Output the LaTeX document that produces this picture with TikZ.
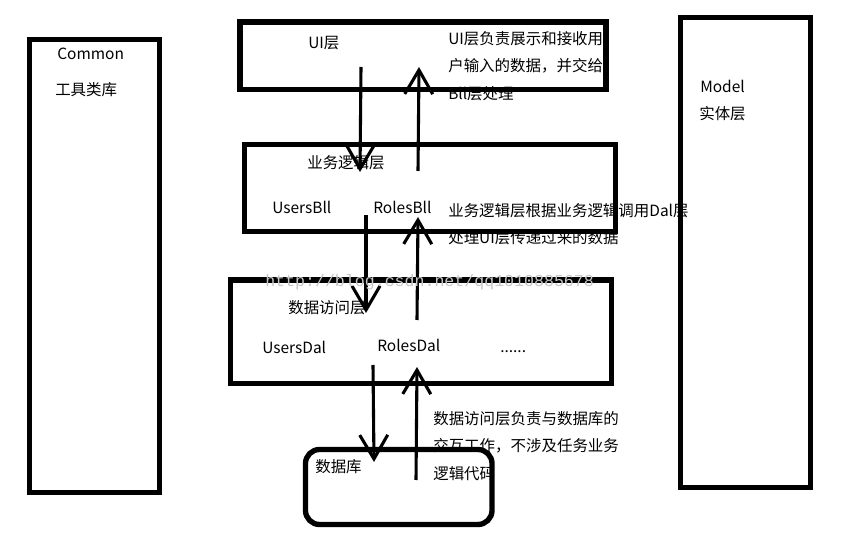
\documentclass[tikz,border=0pt]{standalone}
\usepackage{fontspec}
\newfontfamily\cjk{Noto Sans CJK SC}
\newfontfamily\wmfont{Liberation Mono}
\usetikzlibrary{arrows.meta, positioning}
\tikzset{
  layer/.style={rectangle, draw, line width=3.8pt, inner sep=0pt},
  dbbox/.style={layer, rounded corners=10pt},
  lbl/.style={anchor=west, inner sep=0pt, font=\cjk\fontsize{11}{13}\selectfont},
  note/.style={lbl, align=left, font=\cjk\fontsize{11}{19.5}\selectfont},
  arr/.style={-{Straight Barb[length=6mm,width=7mm]}, line width=2.2pt},
}

\begin{document}
\begin{tikzpicture}[x=0.025cm, y=-0.025cm]
  \useasboundingbox (0,0) rectangle (842,543);

  % texts
  \node[lbl] (commonT) at (57,54) {Common};
  \node[lbl] (commonC) at (55,90) {工具类库};
  \node[lbl] (modelT) at (700,86) {Model};
  \node[lbl] (modelC) at (699,114) {实体层};
  \node[lbl] (uiT) at (308,43) {UI层};
  \node[lbl] (bllT) at (307,163) {业务逻辑层};
  \node[lbl] (usersBll) at (272,207) {UsersBll};
  \node[lbl] (rolesBll) at (373,207) {RolesBll};
  \node[lbl] (dalT) at (288,308) {数据访问层};
  \node[lbl] (usersDal) at (262,347) {UsersDal};
  \node[lbl] (rolesDal) at (377,345) {RolesDal};
  \node[lbl] (moreDal) at (500,352) {......};
  \node[lbl] (dbT) at (315,467) {数据库};

  \node[note] (uiNote) at (448,66)
       {UI层负责展示和接收用\\户输入的数据，并交给\\Bll层处理};
  \node[note] (bllNote) at (448,224)
       {业务逻辑层根据业务逻辑调用Dal层\\处理UI层传递过来的数据};
  \node[note] (dbNote) at (433,446)
       {数据访问层负责与数据库的\\交互工作，不涉及任务业务\\逻辑代码};

  % boxes
  \node[layer, minimum width=3.25cm, minimum height=11.325cm] (common) at (94.5,266) {};
  \node[layer, minimum width=3.25cm, minimum height=11.75cm] (model) at (745.5,252.5) {};
  \node[layer, minimum width=9.15cm, minimum height=1.6875cm] (ui) at (423,55.75) {};
  \node[layer, minimum width=9.275cm, minimum height=2.175cm] (bll) at (430,188) {};
  \node[layer, minimum width=9.525cm, minimum height=2.5875cm] (dal) at (421,331.75) {};
  \node[dbbox, minimum width=4.6625cm, minimum height=1.875cm] (db) at (398.75,487) {};

  % arrow ends
  \coordinate (uiDown) at (361,67);
  \coordinate (bllIn) at (360,172);
  \coordinate (bllUp) at (418,171);
  \coordinate (uiIn) at (419,67);
  \coordinate (bllDown) at (366,215);
  \coordinate (dalIn) at (366,313);
  \coordinate (dalUp) at (417,320);
  \coordinate (bllIn2) at (418,217);
  \coordinate (dalDown) at (373,365);
  \coordinate (dbIn) at (374,462);
  \coordinate (dbUp) at (416,480);
  \coordinate (dalIn2) at (417,367);

  \draw[arr] (uiDown) -- (bllIn);
  \draw[arr] (bllUp) -- (uiIn);
  \draw[arr] (bllDown) -- (dalIn);
  \draw[arr] (dalUp) -- (bllIn2);
  \draw[arr] (dalDown) -- (dbIn);
  \draw[arr] (dbUp) -- (dalIn2);

  % watermark
  \node[anchor=west, inner sep=0pt, text=black!22,
        font=\wmfont\fontsize{11.8}{13}\selectfont] (mark) at (265,282)
       {http://blog.csdn.net/qq1010885678};
\end{tikzpicture}
\end{document}
